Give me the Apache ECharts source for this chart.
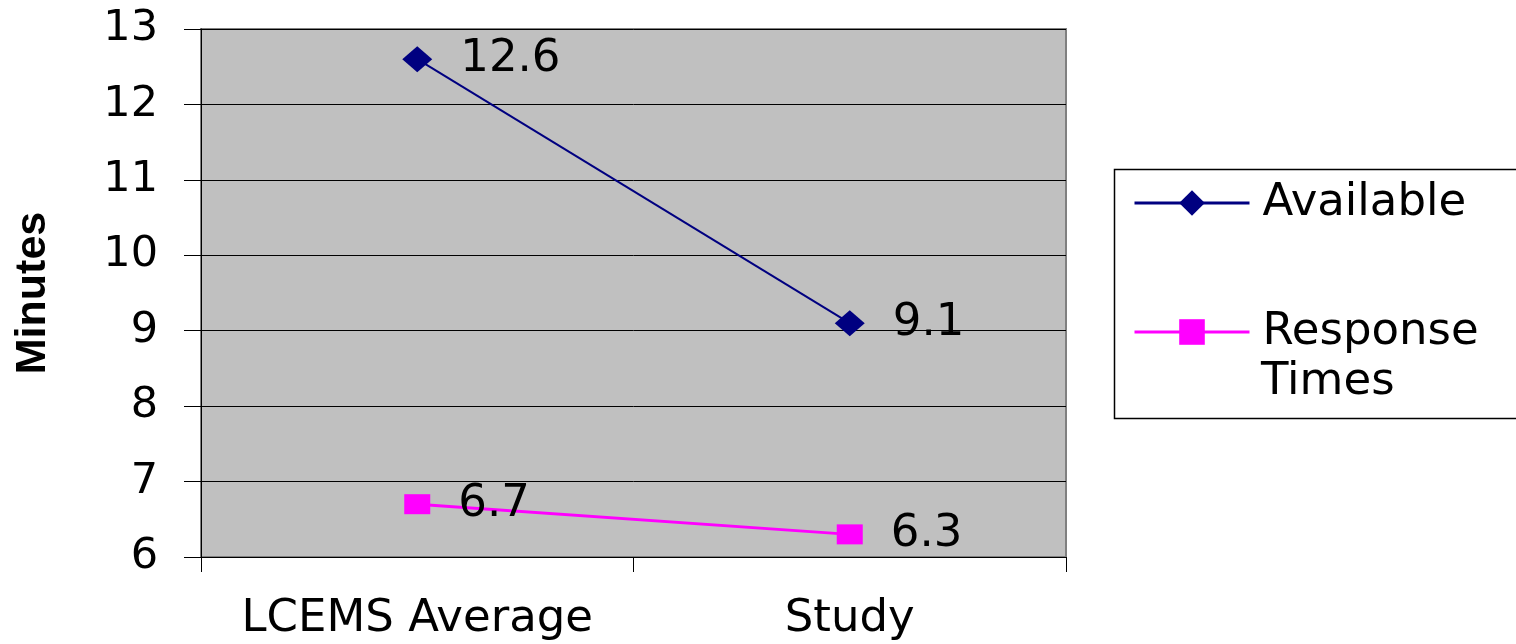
<!DOCTYPE html>
<html>
<head>
<meta charset="utf-8">
<script src="https://cdn.jsdelivr.net/npm/echarts@6/dist/echarts.min.js"></script>
<style>html,body{margin:0;padding:0;background:#fff;}#c{width:1516px;height:644px;}</style>
</head>
<body>
<div id="c"></div>
<script>
var categories = ['LCEMS Average', 'Study'];
var availableValues = [12.6, 9.1];
var responseValues = [6.7, 6.3];
var seriesNames = ['Available', 'Response Times'];
var yTicks = {min: 6, max: 13, interval: 1};
var yTitle = 'Minutes';

var FONT = 'DejaVu Sans';
var chart = echarts.init(document.getElementById('c'), null, {renderer: 'canvas'});
chart.setOption({
  animation: false,
  backgroundColor: '#ffffff',
  grid: {
    left: 201, right: 450, top: 29, bottom: 87,
    outerBoundsMode: 'none',
    containLabel: false,
    show: true, backgroundColor: '#c0c0c0', borderColor: '#808080', borderWidth: 2
  },
  xAxis: {
    type: 'category',
    data: categories,
    boundaryGap: true,
    axisLine: {lineStyle: {color: '#000', width: 1}},
    axisTick: {show: true, length: 15, lineStyle: {color: '#000'}},
    axisLabel: {interval: 0, fontFamily: FONT, fontSize: 45, color: '#000', margin: 40, hideOverlap: false}
  },
  yAxis: {
    type: 'value',
    min: yTicks.min, max: yTicks.max, interval: yTicks.interval,
    name: yTitle,
    nameLocation: 'middle',
    nameRotate: 90,
    nameGap: 146,
    nameTextStyle: {fontFamily: 'Liberation Sans', fontWeight: 'bold', fontSize: 43, color: '#000'},
    axisLine: {show: true, lineStyle: {color: '#000', width: 1}},
    axisTick: {show: true, length: 17, lineStyle: {color: '#000'}},
    axisLabel: {fontFamily: FONT, fontSize: 43, color: '#000', margin: 43},
    splitLine: {show: true, lineStyle: {color: '#000', width: 1}}
  },
  legend: {
    orient: 'vertical',
    left: 1133, top: 178,
    padding: 0,
    itemWidth: 115, itemHeight: 32,
    itemGap: 79,
    data: seriesNames,
    lineStyle: {width: 3},
    formatter: function (n) { return n === 'Response Times' ? 'Response' : n; },
    textStyle: {fontFamily: FONT, fontSize: 45, color: '#000', lineHeight: 50, padding: [0, 0, 0, 8]}
  },
  graphic: [
    {type: 'rect', left: 1112, top: 167, shape: {width: 410, height: 249},
     style: {fill: 'none', stroke: '#000', lineWidth: 1.5}, silent: true},
    {type: 'text', left: 1261, top: 360,
     style: {text: 'Times', fontFamily: FONT, fontSize: 45, fill: '#000'}}
  ],
  series: [
    {
      name: seriesNames[0], type: 'line', data: availableValues,
      symbol: 'diamond', symbolSize: [30, 26],
      itemStyle: {color: '#000080'},
      lineStyle: {color: '#000080', width: 2},
      label: {show: true, position: 'right', distance: 28, fontFamily: FONT, fontSize: 45, color: '#000'}
    },
    {
      name: seriesNames[1], type: 'line', data: responseValues,
      symbol: 'rect', symbolSize: [26, 20],
      itemStyle: {color: '#ff00ff'},
      lineStyle: {color: '#ff00ff', width: 3},
      label: {show: true, position: 'right', distance: 28, fontFamily: FONT, fontSize: 45, color: '#000'}
    }
  ]
});
</script>
</body>
</html>
